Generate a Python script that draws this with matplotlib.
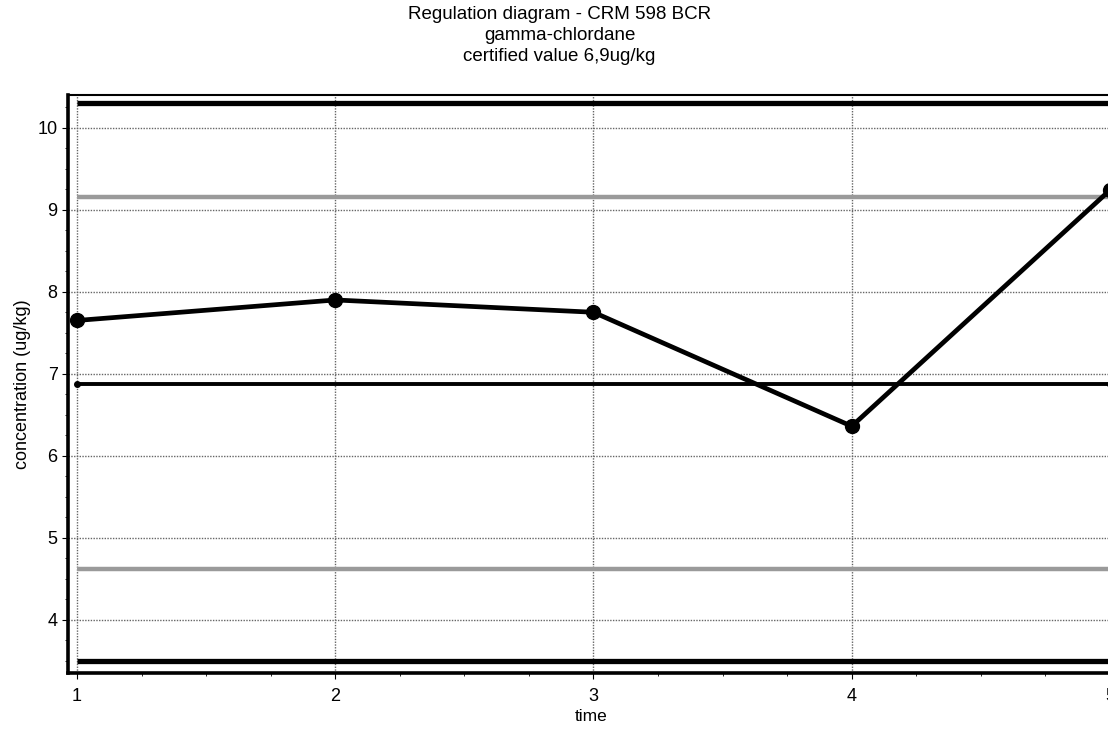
import matplotlib.pyplot as plt
from matplotlib.ticker import MultipleLocator

plt.rcParams['font.family'] = ['Liberation Sans', 'DejaVu Sans']

# measurements
time = [1, 2, 3, 4, 5]
concentration = [7.65, 7.90, 7.75, 6.36, 9.24]

# control limits
certified = 6.88
warning_limits = [9.15, 4.62]
action_limits = [10.30, 3.50]

title_lines = ["Regulation diagram - CRM 598 BCR",
               "gamma-chlordane",
               "certified value 6,9ug/kg"]

fig = plt.figure(figsize=(11.08, 7.29), dpi=100)
ax = fig.add_axes([0.0614, 0.0768, 0.945, 0.7929])

ax.set_xlim(0.965, 5.02)
ax.set_ylim(3.35, 10.40)

# grid
ax.grid(True, which='major', color='#666666', linestyle=(0, (1, 1)), linewidth=1.0)
ax.set_axisbelow(True)

# limit lines
for y in action_limits:
    ax.plot([time[0], time[-1]], [y, y], color='black', linewidth=3.8, solid_capstyle='butt')
for y in warning_limits:
    ax.plot([time[0], time[-1]], [y, y], color='#9a9a9a', linewidth=3.2, solid_capstyle='butt')
ax.plot([time[0], time[-1]], [certified, certified], color='black', linewidth=2.8,
        marker='o', markersize=4)

# data
ax.plot(time, concentration, color='black', linewidth=3.4, marker='o', markersize=10,
        clip_on=False, zorder=5)

ax.xaxis.set_major_locator(MultipleLocator(1))
ax.xaxis.set_minor_locator(MultipleLocator(0.25))
ax.yaxis.set_major_locator(MultipleLocator(1))
ax.yaxis.set_minor_locator(MultipleLocator(0.25))
ax.tick_params(which='major', length=4, width=0.8, labelsize=13, direction='out')
ax.tick_params(axis='x', which='major', pad=7)
ax.tick_params(which='minor', length=2, width=0.6, direction='out')

for side in ['left', 'bottom']:
    ax.spines[side].set_linewidth(2.6)
ax.spines['top'].set_linewidth(1.5)
ax.spines['right'].set_visible(False)

ax.set_xlabel("time", fontsize=12.5, labelpad=3)
ax.set_ylabel("concentration (ug/kg)", fontsize=13, labelpad=5)

for i, line in enumerate(title_lines):
    fig.text(0.505, 0.980 - i * 0.0288, line, ha='center', va='center', fontsize=13.5)

fig.savefig("out.png", dpi=100)
